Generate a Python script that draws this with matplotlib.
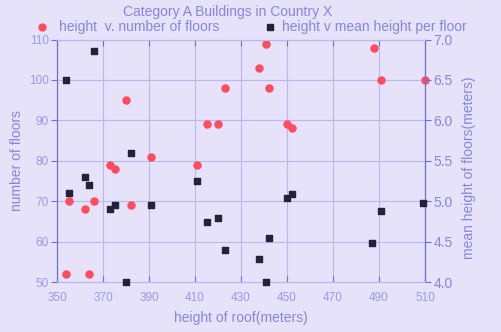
import numpy as np
import matplotlib
matplotlib.use("Agg")
import matplotlib.pyplot as plt
from matplotlib.lines import Line2D

# building data: roof height vs floor count, and vs mean floor height
roof_floors = [354, 364, 355, 362, 366, 373, 375, 382, 380, 391, 411, 415,
               420, 423, 441, 438, 442, 450, 452, 488, 491, 510]
floors = [52, 52, 70, 68, 70, 79, 78, 69, 95, 81, 79, 89,
          89, 98, 109, 103, 98, 89, 88, 108, 100, 100]

roof_mean = [354, 366, 382, 355, 362, 364, 373, 375, 380, 391, 411, 415,
             420, 423, 438, 441, 442, 450, 452, 487, 491, 509]
mean_height = [6.5, 6.86, 5.6, 5.1, 5.3, 5.2, 4.9, 4.95, 4.0, 4.95, 5.25, 4.74,
               4.79, 4.39, 4.29, 4.0, 4.54, 5.04, 5.09, 4.48, 4.88, 4.98]

xticks = [350, 370, 390, 410, 430, 450, 470, 490, 510]
yticks_left = [50, 60, 70, 80, 90, 100, 110]
yticks_right = [4.0, 4.5, 5.0, 5.5, 6.0, 6.5, 7.0]

bg = "#e5e2fa"
txt = "#8686e0"
spine = "#6e6ed6"
gridc = "#b9b9ef"
red = "#ff4d60"
dark = "#22223a"

plt.rcParams['font.family'] = ['Liberation Sans', 'DejaVu Sans']

fig = plt.figure(figsize=(5.01, 3.32), dpi=100, facecolor=bg)
ax = fig.add_axes([0.1138, 0.1506, 0.7345, 0.7304])
ax.set_facecolor(bg)
ax2 = ax.twinx()

ax.scatter(roof_floors, floors, s=26, color=red, zorder=3, clip_on=False)
ax2.scatter(roof_mean, mean_height, s=20, marker='s', color=dark, zorder=3, clip_on=False)

ax.set_xlim(350, 510)
ax.set_ylim(50, 110)
ax2.set_ylim(4.0, 7.0)
ax.set_xticks(xticks)
ax.set_yticks(yticks_left)
ax2.set_yticks(yticks_right)
ax2.set_yticklabels(["%.1f" % v for v in yticks_right])

ax.grid(True, color=gridc, linewidth=0.8)
ax.set_axisbelow(True)

for a in (ax, ax2):
    a.spines['top'].set_color(gridc)
    a.spines['bottom'].set_color(gridc)
    a.spines['left'].set_color(spine)
    a.spines['right'].set_color(spine)

ax.tick_params(axis='x', colors="#9a9aea", labelsize=8.5, direction='in', top=True,
               length=4, color=spine, pad=7)
ax.tick_params(axis='y', colors="#9a9aea", labelsize=8.5, length=4, color=spine, pad=2)
ax2.tick_params(axis='y', colors=txt, labelsize=10, length=4, color=spine, pad=2)

ax.set_xlabel("height of roof(meters)", color=txt, fontsize=10)
ax.set_ylabel("number of floors", color=txt, fontsize=10)
ax2.set_ylabel("mean height of floors(meters)", color=txt, fontsize=10)
ax.xaxis.set_label_coords(0.5, -0.148)
ax.xaxis.label.set_va('center')
ax.yaxis.set_label_coords(-0.109, 0.5)
ax.yaxis.label.set_va('center')
ax2.yaxis.set_label_coords(1.12, 0.47)
ax2.yaxis.label.set_va('center')

fig.text(0.455, 0.965, "Category A Buildings in Country X", color=txt,
         fontsize=10, ha='center', va='center')

# legend row drawn by hand so each entry sits where it should
leg_y = 0.92
fig.add_artist(Line2D([42 / 501], [leg_y], transform=fig.transFigure, linestyle='none',
                      marker='o', color=red, markersize=5))
fig.text(59 / 501, leg_y, "height  v. number of floors", color=txt, fontsize=10,
         ha='left', va='center')
fig.add_artist(Line2D([270 / 501], [leg_y], transform=fig.transFigure, linestyle='none',
                      marker='s', color=dark, markersize=4))
fig.text(282 / 501, leg_y, "height v mean height per floor", color=txt, fontsize=10,
         ha='left', va='center')

fig.savefig("out.png", dpi=100, facecolor=bg)
